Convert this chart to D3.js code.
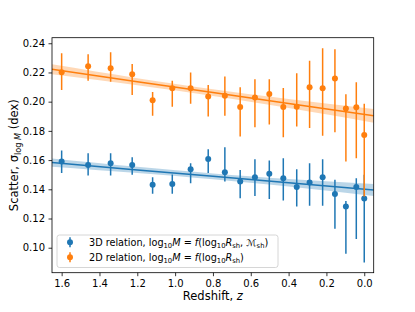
<!DOCTYPE html>
<html><head><meta charset="utf-8">
<script src="https://cdn.jsdelivr.net/npm/d3@7"></script>
<style>body{margin:0;background:#fff}svg{display:block}text{font-family:"DejaVu Sans",sans-serif}</style>
</head><body>
<svg id="c" width="415" height="312"></svg>
<script>
const z = [1.6, 1.46, 1.341, 1.227, 1.119, 1.015, 0.918, 0.825, 0.737, 0.656, 0.578, 0.502, 0.428, 0.357, 0.289, 0.22, 0.155, 0.097, 0.042, 0.0];
const s2d = [0.2202, 0.2243, 0.2229, 0.2188, 0.2010, 0.2092, 0.2092, 0.2035, 0.2041, 0.1964, 0.2028, 0.2053, 0.1964, 0.1966, 0.2099, 0.2092, 0.2158, 0.1953, 0.1962, 0.1771];
const s2dHi = [0.2332, 0.2325, 0.2338, 0.2258, 0.2067, 0.2144, 0.2199, 0.2115, 0.2172, 0.2099, 0.2154, 0.2154, 0.2094, 0.2195, 0.2281, 0.2366, 0.2359, 0.2051, 0.2133, 0.1985];
const s2dLo = [0.2080, 0.2144, 0.2137, 0.2046, 0.1903, 0.1966, 0.1985, 0.1898, 0.1903, 0.1761, 0.1825, 0.1843, 0.1757, 0.1830, 0.1819, 0.1766, 0.1791, 0.1590, 0.1613, 0.1351];
const s3d = [0.1590, 0.1567, 0.1579, 0.1567, 0.1432, 0.1437, 0.1538, 0.1608, 0.1517, 0.1453, 0.1483, 0.1506, 0.1476, 0.1415, 0.1446, 0.1483, 0.1367, 0.1282, 0.1415, 0.1337];
const s3dHi = [0.1665, 0.1647, 0.1647, 0.1620, 0.1483, 0.1501, 0.1579, 0.1674, 0.1688, 0.1533, 0.1606, 0.1597, 0.1613, 0.1538, 0.1579, 0.1606, 0.1465, 0.1320, 0.1476, 0.1500];
const s3dLo = [0.1511, 0.1494, 0.1494, 0.1499, 0.1369, 0.1369, 0.1442, 0.1511, 0.1453, 0.1339, 0.1355, 0.1333, 0.1323, 0.1282, 0.1287, 0.1287, 0.1130, 0.0958, 0.1059, 0.0899];
// fit lines and their bands, read at a few redshifts
const fitZ = [1.651, 1.2, 0.8, 0.4, -0.05];
const fit2d = [0.2222, 0.2137, 0.2062, 0.1987, 0.1903];
const band2d = [0.0034, 0.0024, 0.0023, 0.0031, 0.0047];
const fit3d = [0.1583, 0.1533, 0.1489, 0.1445, 0.1396];
const band3d = [0.0028, 0.0021, 0.0020, 0.0026, 0.0041];
const xTicks = [1.6, 1.4, 1.2, 1.0, 0.8, 0.6, 0.4, 0.2, 0.0];
const yTicks = [0.10, 0.12, 0.14, 0.16, 0.18, 0.20, 0.22, 0.24];

const svg = d3.select("#c");
const L = 52, R = 373.7, T = 37.7, B = 272.7;
const x = d3.scaleLinear().domain([1.651, -0.05]).range([L, R]);
const y = d3.scaleLinear().domain([0.0829, 0.2438]).range([B, T]);
const C3 = "#1f77b4", C2 = "#ff7f0e";

svg.append("clipPath").attr("id", "pc").append("rect")
  .attr("x", L).attr("y", T).attr("width", R - L).attr("height", B - T);
const g = svg.append("g").attr("clip-path", "url(#pc)");

function drawSeries(col, fit, band, vals, lo, hi) {
  const area = d3.area().x((d, i) => x(fitZ[i])).y0((d, i) => y(fit[i] - band[i])).y1((d, i) => y(fit[i] + band[i])).curve(d3.curveNatural);
  g.append("path").attr("d", area(fitZ)).attr("fill", col).attr("fill-opacity", 0.3);
  const line = d3.line().x((d, i) => x(fitZ[i])).y((d, i) => y(fit[i]));
  g.append("path").attr("d", line(fitZ)).attr("fill", "none").attr("stroke", col).attr("stroke-width", 1.5);
  g.selectAll(null).data(z).enter().append("line")
    .attr("x1", d => x(d)).attr("x2", d => x(d))
    .attr("y1", (d, i) => y(lo[i])).attr("y2", (d, i) => y(hi[i]))
    .attr("stroke", col).attr("stroke-width", 1.5);
  g.selectAll(null).data(z).enter().append("circle")
    .attr("cx", d => x(d)).attr("cy", (d, i) => y(vals[i])).attr("r", 3).attr("fill", col);
}
drawSeries(C3, fit3d, band3d, s3d, s3dLo, s3dHi);
drawSeries(C2, fit2d, band2d, s2d, s2dLo, s2dHi);

// axes
const xAxis = d3.axisBottom(x).tickValues(xTicks).tickFormat(d3.format(".1f")).tickSize(3.5).tickPadding(3.5);
const yAxis = d3.axisLeft(y).tickValues(yTicks).tickFormat(d3.format(".2f")).tickSize(3.5).tickPadding(3.5);
const gx = svg.append("g").attr("transform", `translate(0,${B})`).call(xAxis);
const gy = svg.append("g").attr("transform", `translate(${L},0)`).call(yAxis);
[gx, gy].forEach(a => {
  a.select(".domain").remove();
  a.selectAll("text").attr("font-size", 10).attr("fill", "#000").attr("font-family", "DejaVu Sans");
  a.selectAll("line").attr("stroke", "#000").attr("stroke-width", 0.8);
});
svg.append("rect").attr("x", L).attr("y", T).attr("width", R - L).attr("height", B - T)
  .attr("fill", "none").attr("stroke", "#000").attr("stroke-width", 0.8);

// labels
svg.append("text").attr("x", (L + R) / 2).attr("y", 299.5).attr("text-anchor", "middle").attr("font-size", 11.5)
  .call(t => { t.append("tspan").text("Redshift, "); t.append("tspan").attr("font-style", "italic").text("z"); });
const yl = svg.append("text").attr("transform", `translate(18,${(T + B) / 2}) rotate(-90)`).attr("text-anchor", "middle").attr("font-size", 11.5);
yl.append("tspan").text("Scatter, σ");
yl.append("tspan").attr("font-size", 8.2).attr("dy", 2.8).text("log ");
yl.append("tspan").attr("font-size", 8.2).attr("font-style", "italic").text("M");
yl.append("tspan").attr("dy", -2.8).text(" (dex)");

// legend
const lg = svg.append("g");
lg.append("rect").attr("x", 57).attr("y", 235).attr("width", 221).attr("height", 32.5).attr("rx", 2.5)
  .attr("fill", "#fff").attr("fill-opacity", 0.8).attr("stroke", "#cccccc").attr("stroke-width", 0.8);
function legendEntry(yy, col, parts) {
  lg.append("line").attr("x1", 70).attr("x2", 70).attr("y1", yy - 5).attr("y2", yy + 5).attr("stroke", col).attr("stroke-width", 1.5);
  lg.append("circle").attr("cx", 70).attr("cy", yy).attr("r", 3).attr("fill", col);
  const t = lg.append("text").attr("x", 89).attr("y", yy + 3.5).attr("font-size", 9.7);
  parts.forEach(p => {
    const s = t.append("tspan").text(p.t);
    if (p.i) s.attr("font-style", "italic");
    if (p.sub) s.attr("font-size", 6.8).attr("dy", 2.2);
    if (p.up) s.attr("dy", -2.2);
  });
}
legendEntry(242.3, C3, [{t: "3D relation, log"}, {t: "10", sub: 1}, {t: "M", i: 1, up: 1}, {t: " = "}, {t: "f", i: 1}, {t: "(log"}, {t: "10", sub: 1}, {t: "R", i: 1, up: 1}, {t: "sh", sub: 1}, {t: ", ", up: 1}, {t: "ℳ"}, {t: "sh", sub: 1}, {t: ")", up: 1}]);
legendEntry(257.3, C2, [{t: "2D relation, log"}, {t: "10", sub: 1}, {t: "M", i: 1, up: 1}, {t: " = "}, {t: "f", i: 1}, {t: "(log"}, {t: "10", sub: 1}, {t: "R", i: 1, up: 1}, {t: "sh", sub: 1}, {t: ")", up: 1}]);
</script>
</body></html>
